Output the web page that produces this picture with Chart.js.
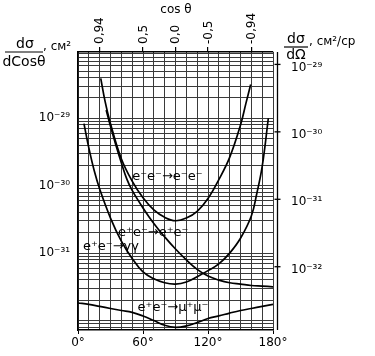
<!DOCTYPE html>
<html><head><meta charset="utf-8">
<script src="https://cdn.jsdelivr.net/npm/chart.js@4.4.0/dist/chart.umd.min.js"></script>
<style>html,body{margin:0;padding:0;background:#fff;}canvas{display:block;}</style>
</head><body>
<canvas id="c" width="375" height="356"></canvas>
<script>
// scattering angle θ (degrees) and dσ/dcosθ (cm²)
const mollerTheta = [21,25,30,40,50,60,70,80,90,100,110,120,130,140,150,155,159.4];
const mollerValue = [3.89e-29,1.78e-29,8.32e-30,2.51e-30,1.17e-30,6.61e-31,4.37e-31,3.39e-31,3.02e-31,3.31e-31,4.17e-31,6.46e-31,1.23e-30,2.63e-30,7.94e-30,1.66e-29,3.16e-29];

const bhabhaTheta = [26,30,35,40,45,50,60,70,80,90,100,110,120,130,140,150,160,170,180];
const bhabhaValue = [1.32e-29,7.59e-30,3.98e-30,2.19e-30,1.26e-30,8.51e-31,4.68e-31,2.75e-31,1.74e-31,1.15e-31,7.94e-32,5.75e-32,4.57e-32,3.98e-32,3.63e-32,3.47e-32,3.31e-32,3.24e-32,3.16e-32];

const gammaTheta = [5.5,10,15,20,30,40,50,60,70,80,90,100,110,120,130,140,150,160,165,170,175.7];
const gammaValue = [8.32e-30,3.63e-30,1.66e-30,8.91e-31,3.31e-31,1.51e-31,8.32e-32,5.25e-32,4.17e-32,3.63e-32,3.47e-32,3.72e-32,4.47e-32,5.50e-32,6.92e-32,1.00e-31,1.66e-31,3.55e-31,7.59e-31,1.91e-30,1.00e-29];

const muonTheta = [0,10,20,30,40,50,60,70,80,90,100,110,120,130,140,150,160,170,180];
const muonValue = [1.82e-32,1.74e-32,1.62e-32,1.51e-32,1.41e-32,1.32e-32,1.17e-32,1.00e-32,8.51e-33,7.94e-33,8.32e-33,9.33e-33,1.07e-32,1.17e-32,1.29e-32,1.41e-32,1.51e-32,1.62e-32,1.74e-32];

// axis ticks
const bottomTicks = [0,60,120,180];
const cosTicks = [0.94,0.5,0.0,-0.5,-0.94];
const cosLabels = ['0,94','0,5','0,0','-0,5','-0,94'];
const leftExps = [-29,-30,-31];
const rightExps = [-29,-30,-31,-32];
const yMin = 7.24e-33, yMax = 9.6e-29;

const curveLabels = [
  {text:'e\u207Be\u207B\u2192e\u207Be\u207B', theta:50, value:1.34e-30},
  {text:'e\u207Ae\u207B\u2192e\u207Ae\u207B', theta:37, value:2.04e-31},
  {text:'e\u207Ae\u207B\u2192\u03B3\u03B3', theta:4.6, value:1.23e-31},
  {text:'e\u207Ae\u207B\u2192\u03BC\u207A\u03BC\u207B', theta:55, value:1.53e-32}
];

const FONT = "'DejaVu Sans', sans-serif";
const sup = {'-':'\u207B','0':'\u2070','1':'\u00B9','2':'\u00B2','3':'\u00B3','4':'\u2074','5':'\u2075','6':'\u2076','7':'\u2077','8':'\u2078','9':'\u2079'};
const pow10 = e => '10' + String(e).split('').map(c => sup[c]).join('');
const toPts = (t, v) => t.map((x, i) => ({x, y: v[i]}));

const ds = (data) => ({data, borderColor:'#000', borderWidth:1.7, pointRadius:0, fill:false, tension:0.4});

const decor = {
  id: 'decor',
  afterDraw(chart) {
    const c = chart.ctx, a = chart.chartArea, x = chart.scales.x, y = chart.scales.y, y2 = chart.scales.y2;
    c.save();
    c.fillStyle = '#000'; c.strokeStyle = '#000';
    // right axis line and ticks
    const rx = a.right + 4.5;
    c.lineWidth = 1.3;
    c.beginPath(); c.moveTo(rx, a.top); c.lineTo(rx, a.bottom); c.stroke();
    y2.ticks.forEach(t => {
      const py = y2.getPixelForValue(t.value);
      c.beginPath(); c.moveTo(rx - 3, py); c.lineTo(rx + 3, py); c.stroke();
    });
    // titles
    c.textAlign = 'center'; c.textBaseline = 'alphabetic';
    c.font = '12px ' + FONT;
    c.fillText('cos \u03B8', 176, 13);
    // left fraction
    c.font = '14px ' + FONT;
    c.fillText('d\u03C3', 25, 48);
    c.fillText('dCos\u03B8', 24, 66);
    c.lineWidth = 1.2;
    c.beginPath(); c.moveTo(5, 52); c.lineTo(43, 52); c.stroke();
    c.textAlign = 'left'; c.font = '12px ' + FONT;
    c.fillText(', \u0441\u043C\u00B2', 43, 50);
    // right fraction
    c.textAlign = 'center'; c.font = '14px ' + FONT;
    c.fillText('d\u03C3', 296, 43);
    c.fillText('d\u03A9', 296, 59);
    c.beginPath(); c.moveTo(284, 47); c.lineTo(308, 47); c.stroke();
    c.textAlign = 'left'; c.font = '12px ' + FONT;
    c.fillText(', \u0441\u043C\u00B2/\u0441\u0440', 309, 45);
    // curve labels
    c.font = '13px ' + FONT; c.textBaseline = 'middle';
    curveLabels.forEach(l => c.fillText(l.text, x.getPixelForValue(l.theta), y.getPixelForValue(l.value)));
    c.restore();
  }
};

const gridColor = '#3a3a3a';
new Chart(document.getElementById('c'), {
  type: 'line',
  data: { datasets: [
    ds(toPts(mollerTheta, mollerValue)),
    ds(toPts(bhabhaTheta, bhabhaValue)),
    ds(toPts(gammaTheta, gammaValue)),
    ds(toPts(muonTheta, muonValue))
  ]},
  options: {
    responsive: false, devicePixelRatio: 1, animation: false,
    layout: { padding: 0 },
    plugins: { legend: {display:false}, tooltip: {enabled:false} },
    scales: {
      x: {
        type: 'linear', position: 'bottom', min: 0, max: 180, bounds: 'data',
        afterBuildTicks: s => { s.ticks = []; for (let v = 0; v <= 180; v += 10) s.ticks.push({value: v}); },
        afterFit: s => { s.height = 26; },
        ticks: { autoSkip: false, maxRotation: 0, padding: 2, color: '#000', font: {family: FONT, size: 12},
                 callback: v => bottomTicks.includes(v) ? v + '\u00B0' : '' },
        grid: { color: gridColor, lineWidth: 1, tickLength: 4,
                tickColor: ctx => (ctx.tick && bottomTicks.includes(ctx.tick.value)) ? '#000' : 'rgba(0,0,0,0)' },
        border: { display: true, color: '#000', width: 1.5 }
      },
      x2: {
        type: 'linear', position: 'top', min: 0, max: 180, bounds: 'data',
        afterBuildTicks: s => { s.ticks = cosTicks.map(c => ({value: Math.acos(c) * 180 / Math.PI})); },
        afterFit: s => { s.height = 52; },
        ticks: { autoSkip: false, minRotation: 90, maxRotation: 90, padding: 3, labelOffset: 15, color: '#000', font: {family: FONT, size: 12},
                 callback: (v, i) => cosLabels[i] },
        grid: { drawOnChartArea: false, color: '#000', tickLength: 5, lineWidth: 1.2 },
        border: { display: true, color: '#000', width: 1.5 }
      },
      y: {
        type: 'logarithmic', position: 'left', min: yMin, max: yMax, bounds: 'data',
        afterBuildTicks: s => {
          const t = [];
          for (let e = -33; e <= -29; e++) for (let m = 1; m <= 9; m++) {
            const v = m * Math.pow(10, e);
            if (v >= yMin && v <= yMax) t.push({value: v});
          }
          s.ticks = t;
        },
        afterFit: s => { s.width = 78; },
        ticks: { autoSkip: false, padding: 8, color: '#000', font: {family: FONT, size: 12},
                 callback: v => { const e = Math.round(Math.log10(v)); return (Math.abs(v / Math.pow(10, e) - 1) < 1e-6 && leftExps.includes(e)) ? pow10(e) : ''; } },
        grid: { color: gridColor, lineWidth: 1, drawTicks: false },
        border: { display: true, color: '#000', width: 1.5 }
      },
      y2: {
        type: 'logarithmic', position: 'right', min: yMin / (2 * Math.PI), max: yMax / (2 * Math.PI), bounds: 'data',
        afterBuildTicks: s => { s.ticks = rightExps.map(e => ({value: Math.pow(10, e)})); },
        afterFit: s => { s.width = 102; },
        ticks: { autoSkip: false, padding: 10, labelOffset: 3, color: '#000', font: {family: FONT, size: 12},
                 callback: v => pow10(Math.round(Math.log10(v))) },
        grid: { display: false },
        border: { display: false }
      }
    }
  },
  plugins: [decor]
});
</script>
</body></html>
